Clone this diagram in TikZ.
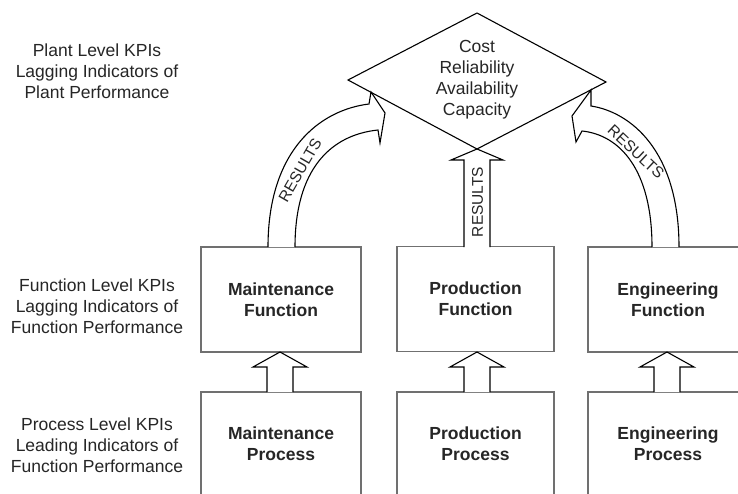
\documentclass[tikz,border=0pt]{standalone}
\usepackage{fontspec}
\setmainfont{Liberation Sans}
\usetikzlibrary{calc}
\definecolor{txt}{HTML}{262626}
\definecolor{boxline}{HTML}{707070}
\tikzset{
  lbl/.style={align=center, text=txt, font=\fontsize{17.5}{21}\selectfont, inner sep=0pt},
  boxlbl/.style={align=center, text=txt, font=\bfseries\fontsize{17.5}{21}\selectfont, inner sep=0pt},
  kbox/.style={draw=boxline, line width=1.5pt, minimum width=160pt, minimum height=105pt, inner sep=0pt},
  blockarrow/.style={draw=black, line width=1.1pt, fill=white, line join=miter},
  res/.style={text=txt, font=\fontsize{15.5}{15.5}\selectfont, inner sep=0pt},
}
\begin{document}
\begin{tikzpicture}[x=1pt,y=-1pt]
\useasboundingbox (0,0) rectangle (738,494);
\clip (0,0) rectangle (738,494);
\fill[white] (0,0) rectangle (738,494);
% left labels
\node[lbl] (plantlbl) at (97,71) {Plant Level KPIs\\Lagging Indicators of\\Plant Performance};
\node[lbl] (funclbl) at (97,306) {Function Level KPIs\\Lagging Indicators of\\Function Performance};
\node[lbl] (proclbl) at (97,445) {Process Level KPIs\\Leading Indicators of\\Function Performance};
% diamond
\coordinate (dl) at (348,80);
\coordinate (dt) at (477,13);
\coordinate (dr) at (606,82);
\coordinate (db) at (477,149);
% function boxes
\node[kbox] (mf) at (281,299.5) {};
\node[kbox, minimum width=157pt] (pf) at (475.5,299) {};
\node[kbox] (ef) at (668,299.5) {};
% process boxes
\node[kbox] (mp) at (281,444.5) {};
\node[kbox, minimum width=157pt] (pp) at (475.5,444.5) {};
\node[kbox] (ep) at (668,444.5) {};
% small block arrows process -> function
\foreach \b/\p/\x in {mf/mp/280, pf/pp/477, ef/ep/667}{
  \draw[blockarrow] (\x-13,392) -- (\x-13,367) -- (\x-27,367) -- (\x,352) -- (\x+27,367) -- (\x+13,367) -- (\x+13,392);
}
% middle straight arrow
\draw[blockarrow] (464,247) -- (464,160) -- (451,160) -- (db) -- (503,160) -- (490,160) -- (490,247);
\node[res, rotate=90] (r2) at (477.5,202) {RESULTS};
% left curved arrow
\draw[blockarrow] (268,247) .. controls (268,150) and (320,110) .. (369,104)
  -- (371,92) -- (385,113) -- (380,143) -- (378,130)
  .. controls (330,135) and (295,170) .. (295,247);
\node[res, rotate=60] (r1) at (300,170) {RESULTS};
% right curved arrow
\draw[blockarrow] (679,247) .. controls (679,150) and (630,112) .. (591,106)
  -- (591,90) -- (572,116) -- (576,142) -- (582,131)
  .. controls (620,135) and (652,170) .. (652,247);
\node[res, rotate=-43] (r3) at (636,152) {RESULTS};
% diamond drawn on top
\draw[black, line width=1.1pt] (dl) -- (dt) -- (dr) -- (db) -- cycle;
\node[lbl] (kpi) at (477,79.5) {Cost\\Reliability\\Availability\\Capacity};
% box labels
\node[boxlbl] at (mf.center) {Maintenance\\Function};
\node[boxlbl] at (pf.center) {Production\\Function};
\node[boxlbl] at (ef.center) {Engineering\\Function};
\node[boxlbl] at ($(mp.center)+(0,-1)$) {Maintenance\\Process};
\node[boxlbl] at ($(pp.center)+(0,-1)$) {Production\\Process};
\node[boxlbl] at ($(ep.center)+(0,-1)$) {Engineering\\Process};
\end{tikzpicture}
\end{document}
